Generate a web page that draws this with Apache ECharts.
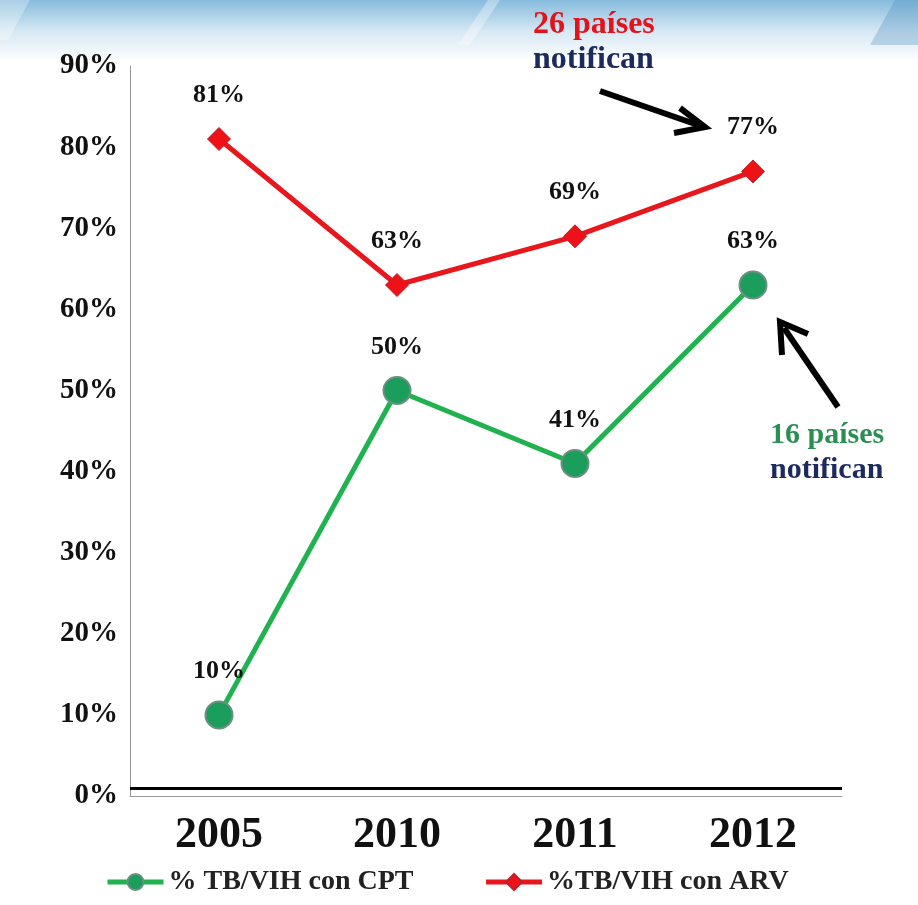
<!DOCTYPE html>
<html>
<head>
<meta charset="utf-8">
<script src="https://cdn.jsdelivr.net/npm/echarts@6/dist/echarts.min.js"></script>
<style>
  html, body { margin: 0; padding: 0; background: #fff; }
  #chart-container { width: 918px; height: 905px; }
</style>
</head>
<body>
<div id="chart-container"></div>
<script>
var years = ['2005', '2010', '2011', '2012'];
var cptValues = [10, 50, 41, 63];
var arvValues = [81, 63, 69, 77];
var cptName = '% TB/VIH con CPT';
var arvName = '%TB/VIH con ARV';
var baseLineValue = 1;

var dom = document.getElementById('chart-container');
var myChart = echarts.init(dom, null, { renderer: 'canvas' });

var serif = '"Liberation Serif", "DejaVu Serif", serif';

var option = {
  backgroundColor: '#fff',
  textStyle: { fontFamily: serif },
  grid: { left: 130, right: 76, top: 66, bottom: 109 },
  legend: {
    bottom: 4,
    left: 100,
    itemWidth: 56,
    itemHeight: 20,
    itemGap: 70,
    lineStyle: { width: 5 },
    textStyle: { fontFamily: serif, fontSize: 28, fontWeight: 'bold', color: '#222' },
    data: [cptName, arvName]
  },
  xAxis: {
    type: 'category',
    data: years,
    boundaryGap: true,
    axisLine: { lineStyle: { color: '#999', width: 1 } },
    axisTick: { show: false },
    axisLabel: {
      fontFamily: serif, fontSize: 44, fontWeight: 'bold', color: '#111', margin: 18
    }
  },
  yAxis: {
    type: 'value',
    min: 0,
    max: 90,
    interval: 10,
    splitLine: { show: false },
    axisLine: { show: true, lineStyle: { color: '#999', width: 1 } },
    axisTick: { show: false },
    axisLabel: {
      formatter: '{value}%',
      fontFamily: serif, fontSize: 29, fontWeight: 'bold', color: '#111', margin: 12
    }
  },
  graphic: [
    // banner across the top
    {
      type: 'rect', z: -10, silent: true,
      shape: { x: 0, y: 0, width: 918, height: 62 },
      style: {
        fill: new echarts.graphic.LinearGradient(0, 0, 0, 1, [
          { offset: 0, color: '#86bbdd' },
          { offset: 0.5, color: '#d6e8f3' },
          { offset: 1, color: '#ffffff' }
        ])
      }
    },
    {
      type: 'polygon', z: -9, silent: true,
      shape: { points: [[0, 0], [30, 0], [8, 40], [0, 40]] },
      style: { fill: 'rgba(255,255,255,0.3)' }
    },
    {
      type: 'polygon', z: -9, silent: true,
      shape: { points: [[488, 0], [500, 0], [470, 45], [458, 45]] },
      style: { fill: 'rgba(255,255,255,0.35)' }
    },
    {
      type: 'polygon', z: -9, silent: true,
      shape: { points: [[895, 0], [918, 0], [918, 45], [870, 45]] },
      style: { fill: 'rgba(70,135,190,0.3)' }
    },
    // top annotation
    {
      type: 'text', left: 533, top: 9,
      style: { text: '26 países', fill: '#e3121b', font: 'bold 32px ' + serif }
    },
    {
      type: 'text', left: 533, top: 44,
      style: { text: 'notifican', fill: '#1c2a5e', font: 'bold 32px ' + serif }
    },
    {
      type: 'line',
      shape: { x1: 600, y1: 91, x2: 698, y2: 125 },
      style: { stroke: '#000', lineWidth: 6 }
    },
    {
      type: 'polyline',
      shape: { points: [[680, 108], [705, 127], [674, 133]] },
      style: { stroke: '#000', lineWidth: 6, fill: null, lineJoin: 'miter' }
    },
    // right annotation
    {
      type: 'line',
      shape: { x1: 838, y1: 407, x2: 784, y2: 328 },
      style: { stroke: '#000', lineWidth: 6 }
    },
    {
      type: 'polyline',
      shape: { points: [[782, 355], [780, 322], [808, 334]] },
      style: { stroke: '#000', lineWidth: 6, fill: null, lineJoin: 'miter' }
    },
    {
      type: 'text', left: 770, top: 420,
      style: { text: '16 países', fill: '#2b8f54', font: 'bold 30px ' + serif }
    },
    {
      type: 'text', left: 770, top: 455,
      style: { text: 'notifican', fill: '#1c2a5e', font: 'bold 30px ' + serif }
    }
  ],
  series: [
    {
      name: cptName,
      type: 'line',
      data: cptValues,
      symbol: 'circle',
      symbolSize: 27,
      lineStyle: { color: '#1fb24f', width: 5 },
      itemStyle: { color: '#1b9e5b', borderColor: '#6b8f80', borderWidth: 2 },
      label: {
        show: true, position: 'top', distance: 16,
        formatter: '{c}%',
        fontFamily: serif, fontSize: 26, fontWeight: 'bold', color: '#111'
      },
      markLine: {
        silent: true,
        symbol: 'none',
        label: { show: false },
        lineStyle: { color: '#000', width: 3, type: 'solid' },
        data: [{ yAxis: baseLineValue }]
      },
      z: 3
    },
    {
      name: arvName,
      type: 'line',
      data: arvValues,
      symbol: 'diamond',
      symbolSize: 23,
      lineStyle: { color: '#e8161d', width: 5 },
      itemStyle: { color: '#ee1118', borderColor: '#c02028', borderWidth: 1 },
      label: {
        show: true, position: 'top', distance: 19,
        formatter: '{c}%',
        fontFamily: serif, fontSize: 26, fontWeight: 'bold', color: '#111'
      },
      z: 3
    }
  ]
};

if (option && typeof option === 'object') {
  myChart.setOption(option);
}

window.addEventListener('resize', myChart.resize);
</script>
</body>
</html>
